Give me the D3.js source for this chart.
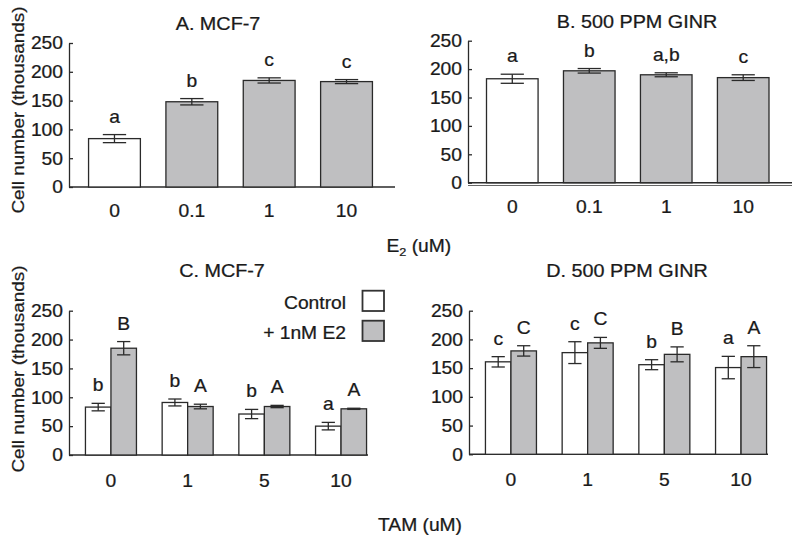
<!DOCTYPE html>
<html>
<head>
<meta charset="utf-8">
<script src="https://cdn.jsdelivr.net/npm/d3@7/dist/d3.min.js"></script>
<style>
  html, body { margin: 0; padding: 0; background: #fff; }
  svg { display: block; }
  text { font-family: "Liberation Sans", Arial, sans-serif; fill: #1a1a1a; stroke: #1a1a1a; stroke-width: 0.25px; }
</style>
</head>
<body>
<svg id="chart" width="800" height="535"></svg>
<script>
// ---------------- data ----------------
const yTicks = [0, 50, 100, 150, 200, 250];

const e2Cats = ["0", "0.1", "1", "10"];
const aMeans = [84, 148, 185, 183];
const aErr = [7, 5.5, 4.5, 3.5];
const aLetters = ["a", "b", "c", "c"];

const bMeans = [183, 197, 190, 185];
const bErr = [8, 4, 3.5, 5];
const bLetters = ["a", "b", "a,b", "c"];

const tamCats = ["0", "1", "5", "10"];
const seriesNames = ["Control", "+ 1nM E2"];

const cControl = [83, 91, 71, 50];
const cControlErr = [6.5, 6, 8, 6.5];
const cControlLetters = ["b", "b", "b", "a"];
const cE2 = [185, 84, 84, 80];
const cE2Err = [11.5, 4, 2, 1];
const cE2Letters = ["B", "A", "A", "A"];

const dControl = [161, 177, 156, 151];
const dControlErr = [9, 19, 8.7, 19.5];
const dControlLetters = ["c", "c", "b", "a"];
const dE2 = [180, 194, 174, 170];
const dE2Err = [9, 9.5, 13, 19];
const dE2Letters = ["C", "C", "B", "A"];

// ---------------- style ----------------
const GRAY = "#bfbfc1";
const INK = "#2a2a2a";
const SX = 1.1;      // horizontal stretch of the reference's lettering
const FS = 17.5;

const svg = d3.select("#chart");

function txt(g, x, y, s, anchor, size, rot) {
  const t = g.append("text")
    .attr("transform", `translate(${x},${y})` + (rot ? ` rotate(${rot})` : "") + ` scale(${SX},1)`)
    .attr("text-anchor", anchor || "middle")
    .style("font-size", (size || FS) + "px");
  t.text(s);
  return t;
}

function frame(cfg) {
  const g = svg.append("g");
  const y = d3.scaleLinear().domain([0, 250]).range([cfg.y0, cfg.yTop]);
  const ax = g.append("g").attr("transform", `translate(${cfg.x0},0)`)
    .call(d3.axisLeft(y).tickValues(yTicks).tickSize(-4).tickSizeOuter(0).tickFormat(""));
  ax.select(".domain").attr("stroke", INK).attr("stroke-width", 1.3);
  ax.selectAll(".tick line").attr("stroke", INK).attr("stroke-width", 1.3);
  yTicks.forEach(v => {
    txt(g, cfg.x0 - 6, y(v), String(v), "end").attr("dy", "0.36em");
  });
  g.append("line").attr("x1", cfg.x0).attr("x2", cfg.xEnd)
    .attr("y1", y(0)).attr("y2", y(0))
    .attr("stroke", INK).attr("stroke-width", cfg.baseW || 1.4);
  if (cfg.doubleBase) {
    g.append("line").attr("x1", cfg.x0).attr("x2", cfg.xEnd)
      .attr("y1", y(0) + 2.8).attr("y2", y(0) + 2.8)
      .attr("stroke", "#555").attr("stroke-width", 0.9);
  }
  txt(g, cfg.titleX, cfg.titleY, cfg.title, "middle", 18);
  return { g, y };
}

function errBar(g, cx, y, mean, err, capW) {
  const top = y(mean + err), bot = y(mean - err);
  g.append("line").attr("x1", cx).attr("x2", cx).attr("y1", top).attr("y2", bot)
    .attr("stroke", INK).attr("stroke-width", 1.3);
  [top, bot].forEach(yy => g.append("line")
    .attr("x1", cx - capW / 2).attr("x2", cx + capW / 2).attr("y1", yy).attr("y2", yy)
    .attr("stroke", INK).attr("stroke-width", 1.3));
}

// ---------- single-series panels (A, B) ----------
function singlePanel(cfg, means, errs, letters) {
  const { g, y } = frame(cfg);
  const x = d3.scaleBand().domain(e2Cats).range(cfg.xRange).paddingInner(0.33).paddingOuter(0.165);
  e2Cats.forEach((c, i) => {
    g.append("rect")
      .attr("x", x(c)).attr("width", x.bandwidth())
      .attr("y", y(means[i])).attr("height", y(0) - y(means[i]))
      .attr("fill", i === 0 ? "#fff" : GRAY)
      .attr("stroke", INK).attr("stroke-width", 1.3);
    const cx = x(c) + x.bandwidth() / 2;
    errBar(g, cx, y, means[i], errs[i], x.bandwidth() * 0.45);
    txt(g, cx, y(means[i] + errs[i]) - 12, letters[i], "middle", 17.5);
    txt(g, cx, y(0) + 30, c, "middle");
  });
}

singlePanel({ x0: 69, xEnd: 395, y0: 187, yTop: 43, xRange: [75.8, 385.2],
  title: "A. MCF-7", titleX: 218, titleY: 30 }, aMeans, aErr, aLetters);

singlePanel({ x0: 468, xEnd: 792, y0: 182.7, yTop: 40.7, xRange: [473.8, 781.7],
  title: "B. 500 PPM GINR", titleX: 637, titleY: 28, baseW: 1.6, doubleBase: true },
  bMeans, bErr, bLetters);

// ---------- grouped panels (C, D) ----------
function groupPanel(cfg, ctl, ctlErr, ctlL, e2, e2Err, e2L) {
  const { g, y } = frame(cfg);
  const x = d3.scaleBand().domain(tamCats).range(cfg.xRange).paddingInner(0.335).paddingOuter(0.1675);
  const xs = d3.scaleBand().domain(seriesNames).range([0, x.bandwidth()]);
  const series = [
    { name: seriesNames[0], m: ctl, e: ctlErr, l: ctlL, fill: "#fff" },
    { name: seriesNames[1], m: e2, e: e2Err, l: e2L, fill: GRAY }
  ];
  tamCats.forEach((c, i) => {
    series.forEach(s => {
      const bx = x(c) + xs(s.name);
      g.append("rect")
        .attr("x", bx).attr("width", xs.bandwidth())
        .attr("y", y(s.m[i])).attr("height", y(0) - y(s.m[i]))
        .attr("fill", s.fill).attr("stroke", INK).attr("stroke-width", 1.3);
      const cx = bx + xs.bandwidth() / 2;
      errBar(g, cx, y, s.m[i], s.e[i], xs.bandwidth() * 0.52);
      txt(g, cx, y(s.m[i] + s.e[i]) - 12, s.l[i], "middle", 17.5);
    });
    txt(g, x(c) + x.bandwidth() / 2, y(0) + 31.5, c, "middle");
  });
  return g;
}

groupPanel({ x0: 69, xEnd: 368, y0: 455, yTop: 310.7, xRange: [72.6, 379.4],
  title: "C. MCF-7", titleX: 222, titleY: 276.7 },
  cControl, cControlErr, cControlLetters, cE2, cE2Err, cE2Letters);

groupPanel({ x0: 469, xEnd: 768, y0: 454.3, yTop: 310.7, xRange: [472.6, 779.4],
  title: "D. 500 PPM GINR", titleX: 627, titleY: 276.7 },
  dControl, dControlErr, dControlLetters, dE2, dE2Err, dE2Letters);

// legend (panel C)
const leg = svg.append("g");
seriesNames.forEach((n, i) => {
  const yy = 290.7 + i * 30;
  leg.append("rect").attr("x", 362.5).attr("y", yy).attr("width", 21.5).attr("height", 20.3)
    .attr("fill", i === 0 ? "#fff" : GRAY).attr("stroke", "#333").attr("stroke-width", 1.8);
  txt(leg, 346, yy + 18.5, n, "end");
});

// axis titles
txt(svg, 24, 110, "Cell number (thousands)", "middle", 17.2, -90);
txt(svg, 24, 369, "Cell number (thousands)", "middle", 17.2, -90);

const e2t = svg.append("text")
  .attr("transform", `translate(386.5,251.5) scale(${SX},1)`)
  .attr("text-anchor", "start").style("font-size", "17.5px");
e2t.append("tspan").text("E");
e2t.append("tspan").attr("dy", 4).style("font-size", "11.5px").text("2");
e2t.append("tspan").attr("dy", -4).text(" (uM)");

txt(svg, 420, 531, "TAM (uM)", "middle", 17.5);
</script>
</body>
</html>
